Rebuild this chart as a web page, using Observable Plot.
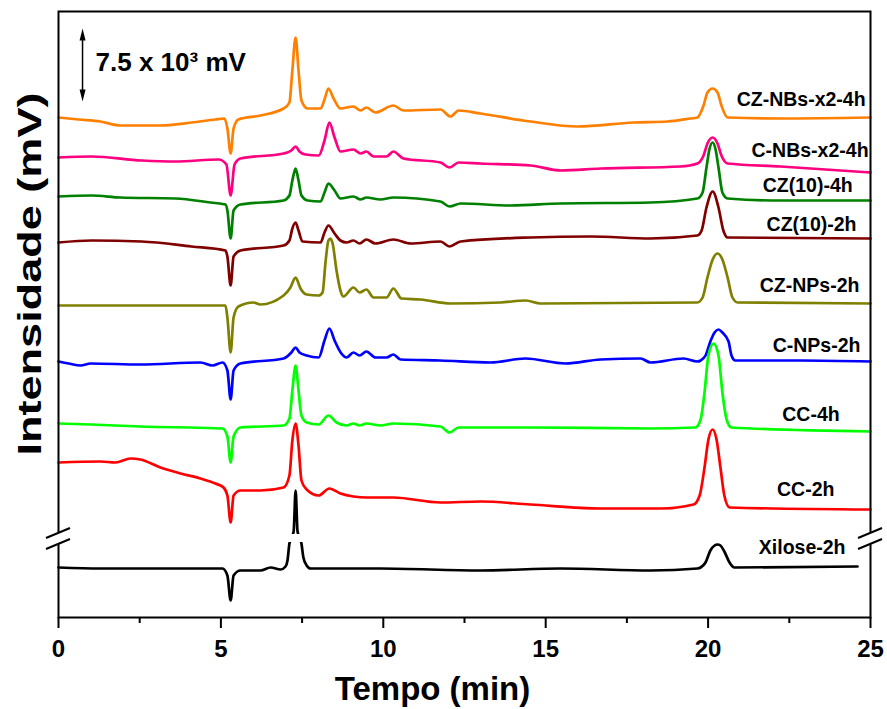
<!DOCTYPE html>
<html>
<head>
<meta charset="utf-8">
<script src="https://cdn.jsdelivr.net/npm/d3@7"></script>
<script src="https://cdn.jsdelivr.net/npm/@observablehq/plot@0.6"></script>
<style>
  html, body { margin: 0; padding: 0; background: white; }
  #chart { width: 887px; height: 709px; overflow: hidden; }
</style>
</head>
<body>
<div id="chart"></div>
<script>
// ---------- DATA (time in min, intensity in display units; 73 units = 7.5 x 10^3 mV) ----------
const seriesNames = ["CZ-NBs-x2-4h", "C-NBs-x2-4h", "CZ(10)-4h", "CZ(10)-2h", "CZ-NPs-2h", "C-NPs-2h", "CC-4h", "CC-2h", "Xilose-2h"];
const seriesColors = ["#ff8000", "#ff0080", "#008000", "#800000", "#808000", "#0000ff", "#00ff00", "#ff0000", "#000000"];

const czNBs4h = [[0,500],[0.62,498],[1.29,496],[1.91,492],[3.14,492],[4.09,495],[4.83,498],[5.11,499],[5.20,489],[5.30,464],[5.39,489],[5.54,498],[6.22,502],[6.93,509],[7.11,515],[7.20,547],[7.30,580],[7.39,547],[7.48,517],[7.67,509],[8.07,509],[8.19,518],[8.31,529],[8.47,519],[8.68,509],[9.08,511],[9.30,507],[9.48,510],[9.76,505],[10.31,512],[10.62,507],[11.76,508],[12.07,501],[12.32,507],[12.99,504],[14.53,496],[15.98,491],[17.70,495],[18.75,496],[19.46,499],[19.67,500],[19.86,512],[19.98,525],[20.14,529],[20.29,525],[20.41,512],[20.60,500],[22.23,499],[25,500]];
const cNBs4h = [[0,460],[1.02,461],[2.56,457],[3.60,456],[4.93,458],[5.17,453],[5.30,422],[5.42,453],[5.60,459],[6.93,464],[7.17,467],[7.30,471],[7.42,466],[7.60,463],[8.01,462],[8.19,477],[8.34,495],[8.50,480],[8.68,466],[9.08,468],[9.30,464],[9.48,466],[9.70,461],[10.10,461],[10.31,466],[10.62,459],[11.76,455],[12.04,450],[12.32,455],[12.99,454],[14.53,452],[15.46,447],[16.69,449],[19.15,451],[19.67,454],[19.86,462],[19.98,474],[20.14,480],[20.29,474],[20.41,462],[20.60,454],[22.23,451],[25,445]];
const cz10h4 = [[0,421],[1.02,422],[1.91,420],[3.60,419],[4.68,415],[5.14,413],[5.20,407],[5.30,379],[5.39,407],[5.60,413],[6.93,417],[7.11,422],[7.20,437],[7.30,449],[7.39,437],[7.48,422],[7.67,417],[8.07,416],[8.19,425],[8.31,434],[8.50,427],[8.68,419],[9.08,421],[9.30,418],[9.48,420],[9.91,418],[10.31,420],[11.76,416],[12.04,411],[12.38,414],[13.92,412],[15.46,414],[18.23,415],[19.67,419],[19.83,425],[19.95,450],[20.04,468],[20.14,475],[20.23,468],[20.32,450],[20.44,425],[20.60,419],[22.23,417],[25,417]];
const cz10h2 = [[0,375],[1.02,377],[2.56,376],[4.09,371],[5.14,367],[5.20,361],[5.30,332],[5.39,361],[5.60,367],[6.93,372],[7.11,377],[7.20,389],[7.30,395],[7.39,387],[7.51,376],[8.07,375],[8.19,385],[8.31,392],[8.50,384],[8.68,377],[8.87,375],[9.08,377],[9.27,374],[9.48,378],[9.76,374],[10.31,378],[10.84,374],[11.76,376],[12.04,371],[12.38,376],[14.53,380],[16.38,381],[18.23,379],[19.67,382],[19.80,387],[19.95,410],[20.14,426],[20.32,410],[20.47,387],[20.60,380],[25,379]];
const czNPs2h = [[0,312],[5.14,312],[5.20,300],[5.30,265],[5.39,300],[5.54,311],[6.00,315],[6.22,313],[6.93,322],[7.14,330],[7.30,340],[7.45,329],[7.64,323],[8.01,322],[8.13,325],[8.22,355],[8.31,377],[8.37,379],[8.44,374],[8.56,347],[8.68,327],[8.77,321],[9.08,330],[9.27,325],[9.48,328],[9.70,320],[10.10,320],[10.31,329],[10.56,319],[11.15,318],[12.07,314],[13.61,315],[14.38,317],[14.84,314],[19.67,315],[19.83,320],[19.98,340],[20.14,358],[20.29,364],[20.44,358],[20.60,340],[20.75,320],[20.91,315],[25,314]];
const cNPs2h = [[0,256],[0.31,254],[0.68,252],[0.99,254],[2.52,253],[4.37,255],[4.74,252],[5.05,255],[5.20,247],[5.30,218],[5.39,247],[5.60,254],[6.93,259],[7.17,265],[7.30,270],[7.42,265],[7.64,262],[8.01,260],[8.19,277],[8.34,289],[8.50,277],[8.71,264],[8.87,260],[9.08,265],[9.27,262],[9.48,266],[9.76,260],[10.10,260],[10.31,263],[10.53,258],[11.76,257],[13.30,255],[14.38,259],[15.61,254],[16.69,258],[17.92,259],[18.23,255],[19.24,259],[19.67,256],[19.77,257],[19.92,262],[20.07,276],[20.20,285],[20.32,288],[20.44,285],[20.63,276],[20.72,262],[20.84,257],[22.85,257],[25,256]];
const cc4h = [[0,194],[0.99,193],[2.52,191],[5.05,189],[5.20,181],[5.30,155],[5.39,181],[5.60,190],[6.93,192],[7.11,199],[7.20,227],[7.30,252],[7.39,227],[7.48,202],[7.64,195],[8.01,193],[8.31,202],[8.56,195],[8.87,192],[9.08,194],[9.27,192],[9.48,194],[9.91,192],[10.31,194],[11.76,191],[12.04,185],[12.32,190],[14.53,190],[18.23,189],[19.61,190],[19.77,198],[19.89,225],[20.01,262],[20.17,274],[20.32,262],[20.44,225],[20.57,198],[20.72,190],[25,186]];
const cc2h = [[0,155],[1.29,156],[1.75,155],[2.22,159],[2.52,158],[3.14,150],[3.76,144],[4.37,139],[4.83,134],[5.08,130],[5.20,122],[5.30,95],[5.39,122],[5.60,127],[6.22,127],[6.93,130],[7.11,142],[7.20,177],[7.30,194],[7.39,172],[7.48,137],[7.64,128],[8.01,122],[8.34,129],[8.68,124],[9.08,121],[9.48,120],[10.31,120],[11.76,115],[12.99,116],[14.53,113],[16.69,109],[18.53,109],[19.55,113],[19.74,122],[19.89,150],[20.01,178],[20.14,188],[20.26,178],[20.38,150],[20.50,122],[20.66,110],[25,108]];
const xilose2h = [[0,50],[1.29,49],[5.05,49],[5.20,42],[5.30,17],[5.39,42],[5.60,47],[6.22,47],[6.53,50],[6.84,48],[6.99,51],[7.05,57],[7.11,74],[7.24,86],[7.30,127],[7.36,86],[7.48,74],[7.54,60],[7.64,52],[7.76,49],[9.91,49],[12.99,47],[15.46,49],[18.23,47],[19.67,49],[19.77,50],[19.92,55],[20.07,67],[20.20,72],[20.29,73],[20.38,72],[20.50,66],[20.66,55],[20.81,50],[24.60,51]];
const seriesValues = [czNBs4h, cNBs4h, cz10h4, cz10h2, czNPs2h, cNPs2h, cc4h, cc2h, xilose2h];

const labelTime = [24.85, 24.94, 24.45, 24.57, 24.66, 24.69, 24.05, 23.89, 24.23];
const labelLevel = [518, 467, 432, 393, 332, 272, 203, 128, 70];

const majorTicks = [0, 5, 10, 15, 20, 25];
const minorTicks = [2.5, 7.5, 12.5, 17.5, 22.5];
const timeDomain = [0, 25];
const intensityDomain = [0, 606];

const scaleBarTime = 0.74;
const scaleBarFrom = 516;
const scaleBarTo = 589;        // 73 units = 7.5 x 10^3 mV
const scaleBarText = "7.5 x 10³ mV";
const scaleBarTextTime = 1.14;
const scaleBarTextLevel = 555;

const axisBreak = [73, 84];    // intensity break (slashes)
const breakGap = [75, 83];     // white gap in traces

const xTitle = "Tempo (min)";
const yTitle = "Intensidade (mV)";

// ---------- BUILD ----------
const labels = seriesNames.map((name, i) => ({name, t: labelTime[i], v: labelLevel[i]}));

const upHead = {draw(ctx) { ctx.moveTo(0, 0); ctx.lineTo(3, 12); ctx.lineTo(-3, 12); ctx.closePath(); }};
const downHead = {draw(ctx) { ctx.moveTo(0, 0); ctx.lineTo(3, -12); ctx.lineTo(-3, -12); ctx.closePath(); }};

function breakMarks(index, {x, y}) {
  const g = d3.create("svg:g");
  const x0 = x(timeDomain[0]), x1 = x(timeDomain[1]);
  const gy0 = y(breakGap[1]), gy1 = y(breakGap[0]);
  g.append("rect").attr("x", x0 + 1.5).attr("y", gy0).attr("width", x1 - x0 - 3).attr("height", gy1 - gy0).attr("fill", "white");
  const yA = y(axisBreak[1]), yB = y(axisBreak[0]);
  const w = 12, s = 5;
  for (const cx of [x0, x1]) {
    g.append("path")
      .attr("d", `M${cx - w},${yA + s}L${cx + w},${yA - s}L${cx + w},${yB - s}L${cx - w},${yB + s}Z`)
      .attr("fill", "white");
    for (const yy of [yA, yB]) {
      g.append("line")
        .attr("x1", cx - w).attr("y1", yy + s).attr("x2", cx + w).attr("y2", yy - s)
        .attr("stroke", "black").attr("stroke-width", 2);
    }
  }
  return g.node();
}

const lineMarks = seriesValues.map((vals, i) =>
  Plot.line(vals, {x: d => d[0], y: d => d[1], stroke: seriesColors[i], strokeWidth: 2.7, curve: "monotone-x"})
);

const chart = Plot.plot({
  width: 887,
  height: 709,
  marginLeft: 58,
  marginRight: 17,
  marginTop: 11,
  marginBottom: 92,
  x: {domain: timeDomain, label: null},
  y: {domain: intensityDomain, axis: null},
  style: {fontFamily: "'Liberation Sans', Arial, Helvetica, sans-serif", fontWeight: "bold", background: "white", color: "black"},
  marks: [
    ...lineMarks,
    Plot.frame({stroke: "black", strokeWidth: 2}),
    breakMarks,
    Plot.axisX({ticks: majorTicks, tickSize: 11, tickPadding: 11, fontSize: 24, strokeWidth: 2, label: null, tickFormat: d => String(d)}),
    Plot.axisX({ticks: minorTicks, tickSize: 6, strokeWidth: 2, label: null, tickFormat: () => ""}),
    Plot.text(labels, {x: "t", y: "v", text: "name", textAnchor: "end", fontSize: 19.5, fontWeight: "bold", fill: "black"}),
    Plot.link([{t: scaleBarTime, a: scaleBarFrom + 6, b: scaleBarTo - 6}], {x1: "t", x2: "t", y1: "a", y2: "b", stroke: "black", strokeWidth: 1.5}),
    Plot.dot([{t: scaleBarTime, v: scaleBarTo}], {x: "t", y: "v", symbol: upHead, fill: "black", stroke: null, r: 5}),
    Plot.dot([{t: scaleBarTime, v: scaleBarFrom}], {x: "t", y: "v", symbol: downHead, fill: "black", stroke: null, r: 5}),
    Plot.text([scaleBarText], {x: scaleBarTextTime, y: scaleBarTextLevel, textAnchor: "start", fontSize: 26, fontWeight: "bold", fill: "black"}),
    Plot.text([xTitle], {frameAnchor: "bottom", dx: -32, dy: 72, lineAnchor: "middle", fontSize: 33, fontWeight: "bold", fill: "black"}),
    Plot.text([yTitle], {frameAnchor: "left", dx: -28, dy: 141, rotate: -90, textAnchor: "start", lineAnchor: "middle", fontSize: 34, fontWeight: "bold", fill: "black"})
  ]
});

d3.select(chart).selectAll("text").filter(function() { return this.textContent === yTitle; })
  .attr("textLength", 363).attr("lengthAdjust", "spacingAndGlyphs");

document.getElementById("chart").appendChild(chart);
</script>
</body>
</html>
